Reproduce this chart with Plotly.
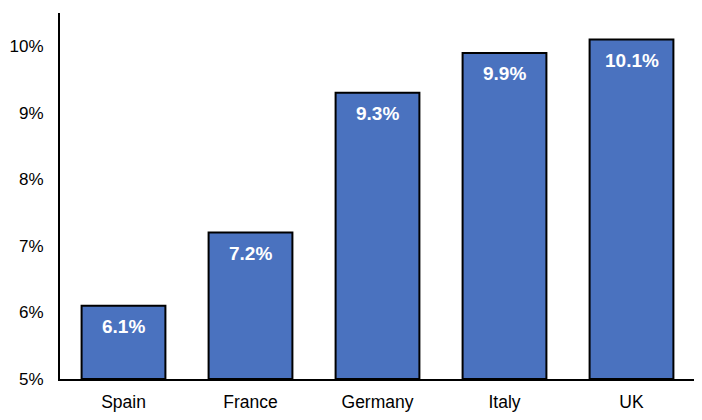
import plotly.graph_objects as go

countries = ["Spain", "France", "Germany", "Italy", "UK"]
rates = [6.1, 7.2, 9.3, 9.9, 10.1]
tick_vals = [5, 6, 7, 8, 9, 10]
tick_text = ["5%", "6%", "7%", "8%", "9%", "10%"]

fig = go.Figure()
# bars start at 5%, so the drawn height is value - 5
fig.add_trace(go.Bar(
    x=countries,
    y=[r - 5 for r in rates],
    base=5,
    marker=dict(color="#4a72bf", line=dict(color="black", width=2)),
    width=0.66,
))

for c, r in zip(countries, rates):
    fig.add_annotation(
        x=c, y=r, text=f"<b>{r:.1f}%</b>", showarrow=False,
        yshift=-21, yanchor="middle",
        font=dict(family="Liberation Sans, Arial", size=19, color="white"),
    )

fig.update_layout(
    width=702,
    height=420,
    margin=dict(l=52, r=15, t=5, b=49),
    plot_bgcolor="white",
    paper_bgcolor="white",
    showlegend=False,
    font=dict(family="Liberation Sans, Arial", size=17.5, color="black"),
    xaxis=dict(
        showline=True, linecolor="black", linewidth=2,
        ticks="", showgrid=False, range=[-0.5, 4.5],
        ticklabelstandoff=6, automargin=False,
    ),
    yaxis=dict(
        range=[5, 10.5], tickvals=tick_vals, ticktext=tick_text,
        showline=True, linecolor="black", linewidth=2,
        ticks="", showgrid=False, zeroline=False,
        ticklabelstandoff=11, automargin=False,
        tickfont=dict(size=17),
    ),
)

fig.write_html("out.html")
